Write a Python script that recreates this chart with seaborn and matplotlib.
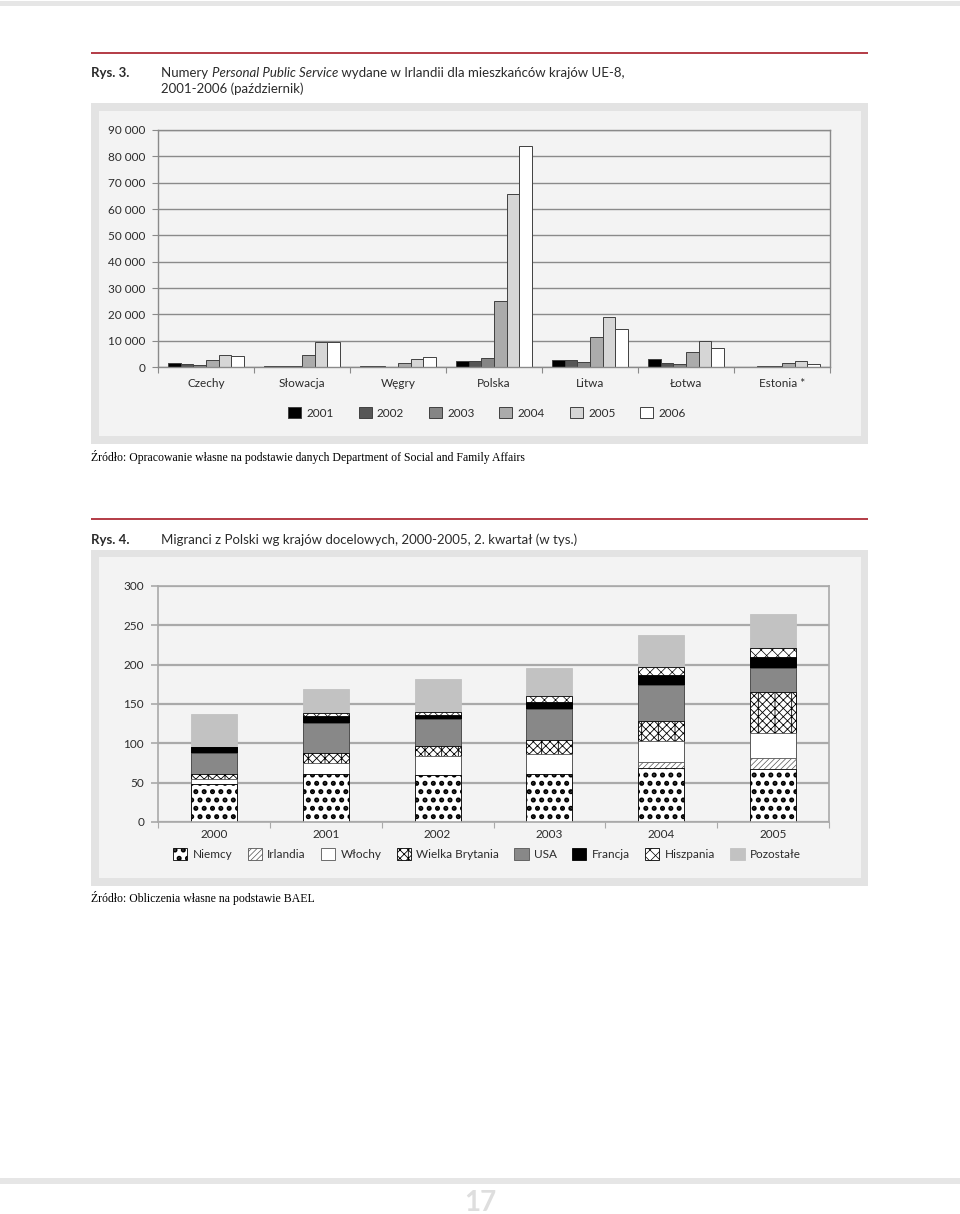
import matplotlib
matplotlib.use("Agg")
import matplotlib.pyplot as plt
import numpy as np
import pandas as pd
import seaborn as sns
from matplotlib.patches import Rectangle, Patch
from matplotlib.ticker import FuncFormatter

# --- Rys. 3: PPS numbers by country and year ---
countries = ["Czechy", "Słowacja", "Węgry", "Polska", "Litwa", "Łotwa", "Estonia *"]
years1 = ["2001", "2002", "2003", "2004", "2005", "2006"]
czechy = [1650, 1150, 800, 2800, 4400, 4050]
slowacja = [250, 250, 300, 4400, 9500, 9500]
wegry = [300, 300, 0, 1500, 3150, 3650]
polska = [2300, 2300, 3600, 25100, 65600, 83900]
litwa = [2800, 2800, 1900, 11500, 19000, 14400]
lotwa = [2900, 1500, 1100, 5700, 9700, 7100]
estonia = [0, 250, 300, 1650, 2150, 1250]
yticks1 = [0, 10000, 20000, 30000, 40000, 50000, 60000, 70000, 80000, 90000]

# --- Rys. 4: migrants from Poland by destination (thousands) ---
years2 = ["2000", "2001", "2002", "2003", "2004", "2005"]
dest_names = ["Niemcy", "Irlandia", "Włochy", "Wielka Brytania", "USA",
              "Francja", "Hiszpania", "Pozostałe"]
niemcy = [47.9, 61.4, 59.7, 61.4, 69.1, 66.9]
irlandia = [0.0, 0.0, 0.0, 0.0, 7.2, 14.8]
wlochy = [7.2, 14.0, 24.2, 25.4, 26.3, 31.8]
wielka_brytania = [6.4, 12.7, 12.7, 17.4, 26.3, 52.1]
usa = [26.7, 37.3, 34.7, 39.8, 44.9, 30.5]
francja = [7.2, 9.3, 4.2, 8.9, 13.6, 13.6]
hiszpania = [0.0, 4.2, 4.2, 7.2, 9.7, 11.9]
pozostale = [41.5, 29.7, 41.5, 36.0, 40.7, 43.2]
yticks2 = [0, 50, 100, 150, 200, 250, 300]

W, H = 960, 1214
sns.set_theme(style="white", rc={"axes.facecolor": "#f3f3f3"})
plt.rcParams["font.family"] = ["Lato", "DejaVu Sans"]
TXT = "#2b2b2b"
GRID1 = "#8a8a8a"
GRID2 = "#a9a9a9"

fig = plt.figure(figsize=(W / 100, H / 100), dpi=100)
fig.patch.set_facecolor("white")


def fx(x):
    return x / W


def fy(y):
    return 1 - y / H


def box(x0, y0, x1, y1, color, z=-5):
    fig.add_artist(Rectangle((fx(x0), fy(y1)), (x1 - x0) / W, (y1 - y0) / H,
                             transform=fig.transFigure, facecolor=color,
                             edgecolor="none", zorder=z))


def seq_text(x, y, parts, **kw):
    r = fig.canvas.get_renderer()
    for s, style in parts:
        t = fig.text(fx(x), fy(y), s, style=style, va="center", ha="left", **kw)
        x += t.get_window_extent(r).width


def hatch_lw(patch, lw):
    if hasattr(patch, "set_hatch_linewidth"):
        patch.set_hatch_linewidth(lw)


# page decoration
box(0, 1, 960, 6, "#e6e6e6")
box(0, 1178, 960, 1184, "#e6e6e6")
fig.text(0.5, fy(1203), "17", ha="center", va="center", fontsize=20,
         fontweight="bold", color="#dedede")

for ry in (53, 519):
    box(91, ry - 1, 868, ry + 1, "#b5404a")

# panels
box(91, 103, 868, 444, "#e3e3e3")
box(99, 111, 861, 436, "#f3f3f3", z=-4)
box(91, 550, 868, 886, "#e3e3e3")
box(99, 557, 861, 878, "#f3f3f3", z=-4)

# titles
fig.text(fx(91), fy(73), "Rys. 3.", fontsize=9.5, fontweight="bold",
         color=TXT, va="center")
seq_text(161, 73, [("Numery ", "normal"), ("Personal Public Service", "italic"),
                   (" wydane w Irlandii dla mieszkańców krajów UE-8,", "normal")],
         fontsize=9.5, color=TXT)
fig.text(fx(161), fy(89), "2001-2006 (październik)", fontsize=9.5,
         color=TXT, va="center")
fig.text(fx(91), fy(540), "Rys. 4.", fontsize=9.5, fontweight="bold",
         color=TXT, va="center")
fig.text(fx(161), fy(540),
         "Migranci z Polski wg krajów docelowych, 2000-2005, 2. kwartał (w tys.)",
         fontsize=9.5, color=TXT, va="center")

fig.text(fx(91), fy(457),
         "Źródło: Opracowanie własne na podstawie danych Department of Social and Family Affairs",
         fontsize=8.5, family="Liberation Serif", color="black", va="center")
fig.text(fx(91), fy(898), "Źródło: Obliczenia własne na podstawie BAEL",
         fontsize=8.5, family="Liberation Serif", color="black", va="center")

# ---------------- chart 1 ----------------
ax1 = fig.add_axes([fx(158), fy(367), 672 / W, 237 / H])
series1 = [czechy, slowacja, wegry, polska, litwa, lotwa, estonia]
df1 = pd.DataFrame({
    "kraj": np.repeat(countries, len(years1)),
    "rok": years1 * len(countries),
    "liczba": np.concatenate(series1),
})
pal1 = ["#000000", "#565656", "#858585", "#ababab", "#d6d6d6", "#ffffff"]
sns.barplot(data=df1, x="kraj", y="liczba", hue="rok", order=countries,
            hue_order=years1, palette=pal1, edgecolor="#404040", linewidth=0.7,
            width=0.79, gap=0, saturation=1, legend=False, ax=ax1)
ax1.set_xlim(-0.5, len(countries) - 0.5)
ax1.set_ylim(0, 90000)
ax1.set_yticks(yticks1)
ax1.yaxis.set_major_formatter(FuncFormatter(lambda v, p: f"{int(v):,}".replace(",", " ")))
ax1.set_xticks(np.arange(-0.5, len(countries)), minor=True)
ax1.yaxis.grid(True, color=GRID1, linewidth=1.0)
ax1.set_axisbelow(True)
for s in ax1.spines.values():
    s.set_color(GRID1)
    s.set_linewidth(1.0)
ax1.tick_params(axis="x", which="major", length=0, pad=8, labelsize=8.5, labelcolor=TXT)
ax1.tick_params(axis="x", which="minor", length=4, width=0.8, color=GRID1, direction="out", bottom=True)
ax1.tick_params(axis="y", length=4, width=0.8, color=GRID1, direction="out", left=True,
                pad=5, labelsize=8.5, labelcolor=TXT)
ax1.set_xlabel("")
ax1.set_ylabel("")

h1 = [Patch(facecolor=c, edgecolor="#404040", linewidth=0.7) for c in pal1]
fig.legend(h1, years1, loc="center", bbox_to_anchor=(fx(487), fy(413)), ncol=6,
           frameon=False, fontsize=8.5, handlelength=1.1, handleheight=1.1,
           handletextpad=0.45, columnspacing=2.1, labelcolor=TXT)

# ---------------- chart 2 ----------------
ax2 = fig.add_axes([fx(158), fy(822), 671 / W, 236 / H])
layers = [niemcy, irlandia, wlochy, wielka_brytania, usa, francja, hiszpania, pozostale]
styles = [
    dict(facecolor="white", edgecolor="black", hatch="..", hlw=2.4),
    dict(facecolor="white", edgecolor="#555555", hatch="//////", hlw=0.5),
    dict(facecolor="white", edgecolor="#555555", hatch=None, hlw=1.0),
    dict(facecolor="white", edgecolor="black", hatch="xxxx|", hlw=0.6),
    dict(facecolor="#888888", edgecolor="#555555", hatch=None, hlw=1.0),
    dict(facecolor="black", edgecolor="black", hatch=None, hlw=1.0),
    dict(facecolor="white", edgecolor="black", hatch="xxx", hlw=0.5),
    dict(facecolor="#c2c2c2", edgecolor="#c2c2c2", hatch=None, hlw=1.0),
]
cum = np.cumsum(np.array(layers), axis=0)
# draw from top layer down so lower segments cover the upper cumulative bars
for i in range(len(layers) - 1, -1, -1):
    st = styles[i]
    n_before = len(ax2.patches)
    sns.barplot(x=years2, y=cum[i], order=years2, color=st["facecolor"],
                saturation=1, width=0.41, edgecolor=st["edgecolor"], linewidth=0.6,
                hatch=st["hatch"], ax=ax2)
    for p in ax2.patches[n_before:]:
        p.set_facecolor(st["facecolor"])
        hatch_lw(p, st["hlw"])
ax2.set_xlim(-0.5, len(years2) - 0.5)
ax2.set_ylim(0, 300)
ax2.set_yticks(yticks2)
ax2.set_xticks(np.arange(-0.5, len(years2)), minor=True)
ax2.yaxis.grid(True, color=GRID2, linewidth=1.6)
ax2.set_axisbelow(True)
for s in ax2.spines.values():
    s.set_color(GRID2)
    s.set_linewidth(1.2)
ax2.tick_params(axis="x", which="major", length=0, pad=5, labelsize=8.5, labelcolor=TXT)
ax2.tick_params(axis="x", which="minor", length=4, width=0.8, color=GRID2, direction="out", bottom=True)
ax2.tick_params(axis="y", length=5, width=1.2, color=GRID2, direction="out", left=True,
                pad=5, labelsize=8.5, labelcolor=TXT)
ax2.set_xlabel("")
ax2.set_ylabel("")

h2 = [Patch(facecolor=st["facecolor"], edgecolor=st["edgecolor"], hatch=st["hatch"],
            linewidth=0.6) for st in styles]
leg2 = fig.legend(h2, dest_names, loc="center", bbox_to_anchor=(fx(487), fy(854)),
                  ncol=8, frameon=False, fontsize=8.5, handlelength=1.2,
                  handleheight=1.2, handletextpad=0.45, columnspacing=1.3,
                  labelcolor=TXT)
for p, st in zip(leg2.get_patches(), styles):
    hatch_lw(p, st["hlw"])

fig.savefig("out.png", dpi=100, facecolor="white")
